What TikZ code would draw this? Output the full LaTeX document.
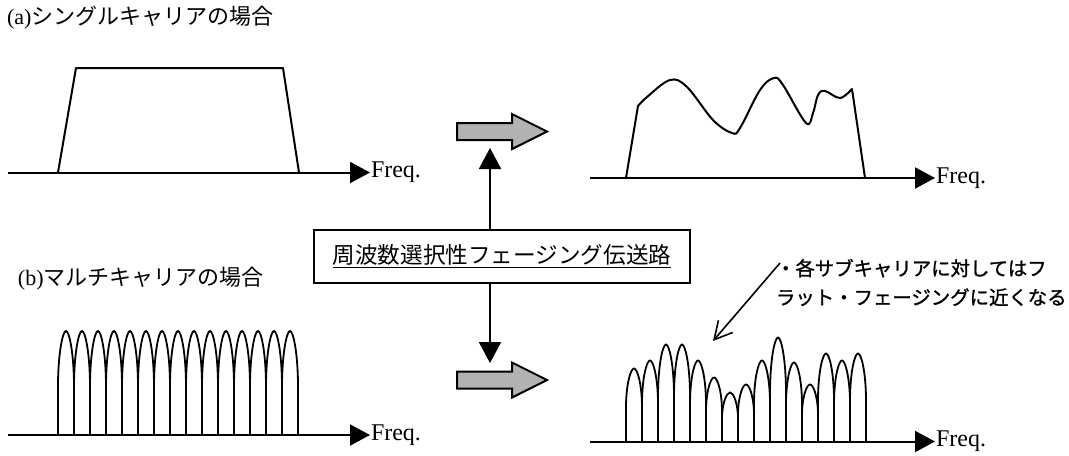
\documentclass[tikz,border=0pt]{standalone}
\usepackage{fontspec}
\setmainfont{Liberation Serif}
\newfontfamily\jp{Noto Sans CJK JP}
\newfontfamily\jpbold[FakeBold=1.2]{Noto Sans CJK JP}
\usetikzlibrary{arrows.meta}
\tikzset{every node/.style={font=\fontsize{11}{13}\selectfont},
  axis/.style={-{Triangle[length=10pt,width=10.5pt]},line width=1pt},
  band/.style={draw=black,line width=1pt,line join=round},
  lobe/.style={draw=black,line width=.9pt},
  link/.style={-{Triangle[length=10.5pt,width=11pt]},line width=1pt},
  pointer/.style={-{Straight Barb[length=8.8pt,width=9.4pt]},line width=.8pt},
  blockarrow/.style={draw=black,fill=black!30,line width=1pt,line join=miter},
  freqlabel/.style={anchor=west,inner sep=0pt,font=\fontsize{12}{14}\selectfont},
  caption/.style={anchor=west,inner sep=0pt}}

\begin{document}
\begin{tikzpicture}[x=.5pt,y=-.5pt,line width=1pt]
\useasboundingbox (0,0) rectangle (1069,455);
% captions
\node[caption] (capa) at (6,18) {(a){\jp シングルキャリアの場合}};
\node[caption] (capb) at (17,279) {(b){\jp マルチキャリアの場合}};
% frequency axes
\coordinate (a0) at (8,172.5);\coordinate (b0) at (590,178);\coordinate (c0) at (8,435);\coordinate (d0) at (590,441.5);
\node[freqlabel] (fa) at (370,172.5) {Freq.};\node[freqlabel] (fb) at (935,178) {Freq.};
\node[freqlabel] (fc) at (370,435) {Freq.};\node[freqlabel] (fd) at (935,441.5) {Freq.};
\foreach \u/\v in {a0/fa,b0/fb,c0/fc,d0/fd} {\draw[axis] (\u)--(\v.west);}
% single carrier spectrum, flat and faded
\draw[band] (58,172.5)--(76,68)--(283,68)--(299,172.5);
\draw[band] (626,178)--plot[smooth,tension=.6] coordinates {(638,106) (647,97) (670,80) (687,87) (713,120) (732,133) (740,128) (760,90) (774,78) (783,85) (806,123) (813,113) (818,95) (825,91) (840,98) (852,89)}--(865,178);
% sub-carriers, flat and faded
\foreach \i in {0,...,14} {\draw[lobe,shift={({66+16*\i},435)}] (-8,0)--(-8,-52) .. controls (-7.5,-85) and (-3,-104) .. (0,-104) .. controls (3,-104) and (7.5,-85) .. (8,-52)--(8,0);}
\foreach \h [count=\i from 0] in {73,81,97,97,81,64,49,57,81,104,79,57,88,81,88} {\draw[lobe,shift={({634+16*\i},441.5)}] (-8,0)--(-8,-.5*\h) .. controls (-7.5,-.82*\h) and (-3,-\h) .. (0,-\h) .. controls (3,-\h) and (7.5,-.82*\h) .. (8,-.5*\h)--(8,0);}
% channel and block arrows
\foreach \y in {131.5,380} {\draw[blockarrow] (457,\y-8.5)--(512,\y-8.5)--(512,\y-17.5)--(547,\y)--(512,\y+17.5)--(512,\y+8.5)--(457,\y+8.5)--cycle;}
\node[draw,line width=1pt,minimum width=188pt,minimum height=26.5pt,inner sep=0pt] (chan) at (502,256.5) {\underline{\jp\fontsize{11.3}{13}\selectfont 周波数選択性フェージング伝送路}};
\coordinate (uptip) at (490,148);\coordinate (downtip) at (490,363);
\draw[link] (chan.north -| uptip)--(uptip);
\draw[link] (chan.south -| downtip)--(downtip);
% note on the sub-carriers
\node[anchor=north west,align=left,inner sep=0pt,font=\jpbold\fontsize{9.7}{14.5}\selectfont] (note) at (775,258) {・各サブキャリアに対してはフ\\ラット・フェージングに近くなる};
\coordinate (notestart) at (780,263);\coordinate (notetip) at (713,341);
\draw[pointer] (notestart)--(notetip);
\end{tikzpicture}
\end{document}
